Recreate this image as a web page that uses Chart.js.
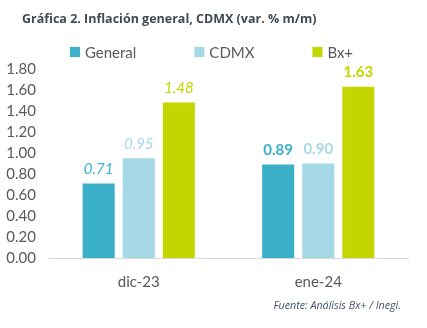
<!DOCTYPE html>
<html>
<head>
<meta charset="utf-8">
<script src="https://cdn.jsdelivr.net/npm/chart.js@4"></script>
<style>
  html, body { margin: 0; padding: 0; background: #fff; }
  #wrap { position: relative; width: 427px; height: 328px; }
  #title { position: absolute; left: 22px; top: 10px; font: bold 12.5px "Open Sans", sans-serif; color: #3F4B55; white-space: nowrap; }
  #source { position: absolute; right: 26px; top: 298px; font: italic 10.7px "Open Sans", sans-serif; color: #44546A; white-space: nowrap; }
  canvas { position: absolute; left: 0; top: 0; }
</style>
</head>
<body>
<div id="wrap">
  <canvas id="chart" width="427" height="328"></canvas>
  <div id="title">Gráfica 2. Inflación general, CDMX (var. % m/m)</div>
  <div id="source">Fuente: Análisis Bx+ / Inegi.</div>
</div>
<script>
// data
const months = ['dic-23', 'ene-24'];
const general = [0.71, 0.89];
const cdmx = [0.95, 0.90];
const bxmas = [1.48, 1.63];
const labelStyle = ['italic', 'bold']; // data label font style per month

const colors = ['#3BB0C9', '#A5D9E6', '#C4D600'];
const textGray = '#595959';
const fontFamily = 'Lato, "Open Sans", sans-serif';

// value labels above bars
const valueLabels = {
  id: 'valueLabels',
  afterDatasetsDraw(chart) {
    const ctx = chart.ctx;
    ctx.save();
    ctx.textAlign = 'center';
    ctx.textBaseline = 'bottom';
    chart.data.datasets.forEach((ds, i) => {
      chart.getDatasetMeta(i).data.forEach((bar, j) => {
        const style = labelStyle[j];
        ctx.font = (style === 'bold' ? 'bold ' : 'italic ') + '15px ' + fontFamily;
        ctx.fillStyle = ds.backgroundColor;
        ctx.fillText(ds.data[j].toFixed(2), bar.x, bar.y - 7);
      });
    });
    ctx.restore();
  }
};

// legend with wide spacing like the original
const wideLegend = {
  id: 'wideLegend',
  afterDraw(chart) {
    const ctx = chart.ctx;
    const gap = 58, box = 10, y = 52;
    ctx.save();
    ctx.font = '15px ' + fontFamily;
    ctx.textBaseline = 'middle';
    const items = chart.data.datasets.map(ds => ({
      text: ds.label, color: ds.backgroundColor,
      w: box + 5 + ctx.measureText(ds.label).width
    }));
    const total = items.reduce((s, it) => s + it.w, 0) + gap * (items.length - 1);
    let x = (chart.width - total) / 2 - 2;
    items.forEach(it => {
      ctx.fillStyle = it.color;
      ctx.fillRect(x, y - box / 2, box, box);
      ctx.fillStyle = textGray;
      ctx.fillText(it.text, x + box + 5, y + 1);
      x += it.w + gap;
    });
    ctx.restore();
  }
};

new Chart(document.getElementById('chart'), {
  type: 'bar',
  data: {
    labels: months,
    datasets: [
      { label: 'General', data: general, backgroundColor: colors[0] },
      { label: 'CDMX', data: cdmx, backgroundColor: colors[1] },
      { label: 'Bx+', data: bxmas, backgroundColor: colors[2] }
    ]
  },
  options: {
    responsive: false,
    animation: false,
    layout: { padding: { top: 69, left: 6, right: 19, bottom: 22 } },
    datasets: { bar: { categoryPercentage: 0.67, barPercentage: 0.8 } },
    plugins: {
      legend: { display: false },
      title: { display: false },
      tooltip: { enabled: false }
    },
    scales: {
      x: {
        grid: { display: false, drawTicks: false },
        border: { color: '#D9D9D9', width: 1 },
        ticks: { color: textGray, font: { family: fontFamily, size: 15 }, padding: 15 }
      },
      y: {
        min: 0, max: 1.8,
        grid: { display: false, drawTicks: false },
        border: { display: false },
        afterFit: scale => { scale.width = 43; },
        ticks: {
          stepSize: 0.2,
          autoSkip: false,
          color: textGray,
          font: { family: fontFamily, size: 15 },
          padding: 13,
          callback: v => v.toFixed(2)
        }
      }
    }
  },
  plugins: [valueLabels, wideLegend]
});
</script>
</body>
</html>
